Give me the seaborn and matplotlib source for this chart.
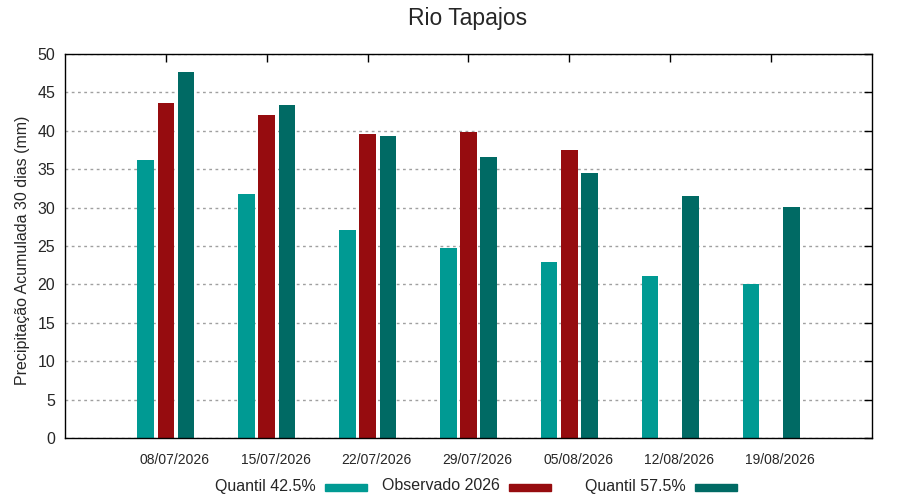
import pandas as pd
import matplotlib.pyplot as plt
import seaborn as sns
from matplotlib.patches import Rectangle
from matplotlib.transforms import ScaledTranslation

# --- dados ---
datas = ['08/07/2026', '15/07/2026', '22/07/2026', '29/07/2026',
         '05/08/2026', '12/08/2026', '19/08/2026']
quantil_425 = [36.2, 31.8, 27.1, 24.7, 22.9, 21.1, 20.05]
observado_2026 = [43.6, 42.05, 39.6, 39.8, 37.5, None, None]
quantil_575 = [47.65, 43.35, 39.3, 36.6, 34.5, 31.5, 30.1]

series = ['Quantil 42.5%', 'Observado 2026', 'Quantil 57.5%']
cores = ['#009a93', '#960c0f', '#006a64']

df = pd.DataFrame({
    'Data': datas,
    series[0]: quantil_425,
    series[1]: observado_2026,
    series[2]: quantil_575,
})
df = df.melt(id_vars='Data', var_name='Serie', value_name='Valor').dropna()

sns.set_style('white')
plt.rcParams['font.family'] = ['Liberation Sans', 'DejaVu Sans']

fig = plt.figure(figsize=(9, 5), dpi=100)
ax = fig.add_axes([65 / 900, 62 / 500, 807 / 900, 384 / 500])

sns.barplot(data=df, x='Data', y='Valor', hue='Serie', order=datas,
            hue_order=series, palette=cores, width=0.6, gap=0.18,
            saturation=1, errorbar=None, linewidth=0, legend=False, ax=ax)

ax.set_xlim(-1, 7)
ax.set_ylim(0, 50)
ax.set_yticks(range(0, 51, 5))
ax.yaxis.grid(True, linestyle=(0, (2, 2.5)), color='#a0a0a0', linewidth=1)
ax.set_axisbelow(True)

for s in ax.spines.values():
    s.set_color('black')
    s.set_linewidth(1)

ax.tick_params(axis='both', direction='in', top=True, right=True,
               length=6, width=1, color='black')
ax.tick_params(axis='y', labelsize=11.5, pad=7)
ax.tick_params(axis='x', labelsize=10, pad=11)

# rotulos de data deslocados um pouco para a direita
desloc = ScaledTranslation(9 / 100, 0, fig.dpi_scale_trans)
for lbl in ax.get_xticklabels():
    lbl.set_transform(lbl.get_transform() + desloc)

ax.set_xlabel('')
ax.set_ylabel('Precipitação Acumulada 30 dias (mm)', fontsize=11.5)
ax.yaxis.set_label_coords(-0.043, 0.49)

fig.text(467.5 / 900, 1 - 19 / 500, 'Rio Tapajos', ha='center',
         va='center', fontsize=16.5)

# legenda no estilo gnuplot: texto alinhado a direita e amostra depois
fim_texto = [316, 500, 686]
for nome, cor, xt in zip(series, cores, fim_texto):
    fig.text(xt / 900, 1 - 486 / 500, nome, ha='right', va='center',
             fontsize=11.5)
    fig.patches.append(Rectangle(((xt + 9) / 900, 1 - 491 / 500),
                                 42 / 900, 7 / 500, color=cor,
                                 transform=fig.transFigure, figure=fig))

fig.savefig('out.png', dpi=100)
